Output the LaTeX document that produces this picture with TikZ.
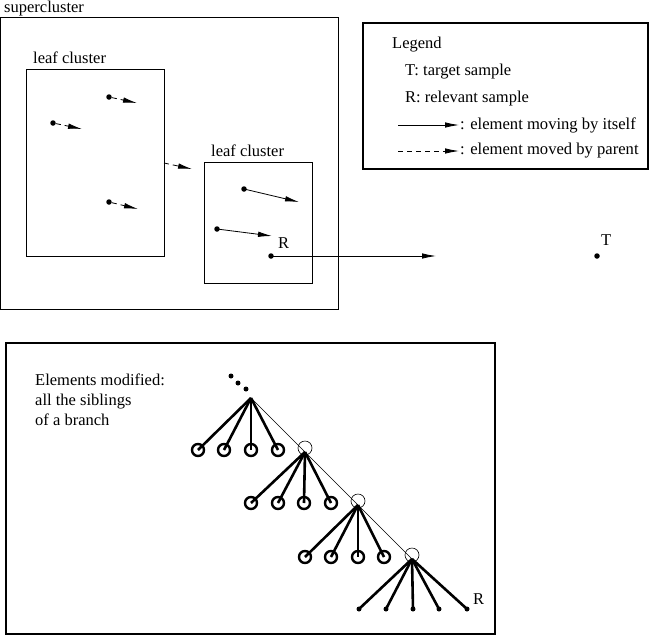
\documentclass[tikz,border=0pt]{standalone}
\usepackage{fontspec}
\setmainfont{Liberation Serif}
\usetikzlibrary{arrows.meta}
\begin{document}
\begin{tikzpicture}[x=1pt,y=-1pt,
  lbl/.style={font=\fontsize{16.5}{19}\selectfont, inner sep=0pt, anchor=west},
  lgline/.style={font=\fontsize{16.6}{19}\selectfont, inner sep=0pt, anchor=west},
  dotpt/.style={circle, fill=black, inner sep=0pt, minimum size=5.5pt},
  smalldot/.style={circle, fill=black, inner sep=0pt, minimum size=5pt},
  tip/.style={-{Latex[length=14pt,width=5.5pt]}},
  solidarr/.style={tip, line width=0.8pt},
  dasharr/.style={tip, line width=0.8pt, dash pattern=on 5pt off 4pt},
  thinbox/.style={draw, line width=0.8pt},
  thickbox/.style={draw, line width=1.4pt},
  leafc/.style={circle, draw, line width=2.4pt, inner sep=0pt, minimum size=12pt},
  hollow/.style={circle, draw, line width=0.6pt, inner sep=0pt, minimum size=14pt},
  thickedge/.style={line width=2.6pt},
  thinedge/.style={line width=0.6pt}
]
\useasboundingbox (0,0) rectangle (654,638);
% boxes
\node[lbl] (sclab) at (4,8.5) {supercluster};
\draw[thinbox] (0,17) rectangle (338,309);
\node[lbl] (lc1lab) at (33,58) {leaf cluster};
\draw[thinbox] (26,69) rectangle (164,256);
\coordinate (lc1e) at (164,163);
\node[lbl] (lc2lab) at (211,151) {leaf cluster};
\draw[thinbox] (204,162) rectangle (312,283);
\coordinate (lc2w) at (192,169);
\draw[dasharr] (lc1e) -- (lc2w);
% elements in leaf cluster 1
\node[dotpt] (e1) at (53,123) {};
\coordinate (e1t) at (82,129);
\draw[dasharr] (e1) -- (e1t);
\node[dotpt] (e2) at (109,97) {};
\coordinate (e2t) at (137,103);
\draw[dasharr] (e2) -- (e2t);
\node[dotpt] (e3) at (109,202) {};
\coordinate (e3t) at (138,209);
\draw[dasharr] (e3) -- (e3t);
% elements in leaf cluster 2
\node[dotpt] (f1) at (244,189) {};
\coordinate (f1t) at (299,202);
\draw[solidarr] (f1.center) -- (f1t);
\node[dotpt] (f2) at (217,229) {};
\coordinate (f2t) at (272,236);
\draw[solidarr] (f2.center) -- (f2t);
\node[dotpt] (R) at (271,256) {};
\node[lbl] (Rlab) at (278,243) {R};
\coordinate (Rt) at (436,256);
\draw[solidarr] (R.center) -- (Rt);
\node[dotpt] (T) at (597,256) {};
\node[lbl] (Tlab) at (601,240) {T};
% legend
\draw[thickbox] (363,23) rectangle (648,169);
\node[lbl] (lg) at (392,45) {Legend};
\node[lbl] (lgT) at (405,72) {T: target sample};
\node[lbl] (lgR) at (405,99) {R: relevant sample};
\coordinate (ls1) at (398,125);
\coordinate (ls2) at (459,125);
\draw[solidarr] (ls1) -- (ls2);
\node[lgline] (lgs) at (460,125) {: element moving by itself};
\coordinate (ld1) at (398,151);
\coordinate (ld2) at (459,151);
\draw[dasharr] (ld1) -- (ld2);
\node[lgline] (lgd) at (460,151) {: element moved by parent};
% bottom box
\draw[thickbox] (6,343) rectangle (495,634);
\node[lbl, align=left, anchor=north west, font=\fontsize{16.5}{20}\selectfont] (em) at (35,374) {Elements modified:\\all the siblings\\of a branch};
% tree
\node[smalldot] (d1) at (231,376) {};
\node[smalldot] (d2) at (238,383) {};
\node[smalldot] (d3) at (246,389) {};
\coordinate (A) at (251,398);
\node[hollow] (h1) at (305,448) {};
\coordinate (B) at (305,452);
\node[hollow] (h2) at (358,501) {};
\coordinate (C) at (358,505);
\node[hollow] (h3) at (412,555) {};
\coordinate (D) at (412,559);
\draw[thinedge] (A) -- (D);
\foreach \x [count=\i] in {198,224,251,278} {
  \node[leafc] (a\i) at (\x,450) {};
  \draw[thickedge] (A) -- (a\i.center);
}
\foreach \x [count=\i] in {251,278,304,331} {
  \node[leafc] (b\i) at (\x,503) {};
  \draw[thickedge] (B) -- (b\i.center);
}
\foreach \x [count=\i] in {305,331,358,384} {
  \node[leafc] (c\i) at (\x,557) {};
  \draw[thickedge] (C) -- (c\i.center);
}
\foreach \x [count=\i] in {359,386,413,439,467} {
  \node[smalldot] (l\i) at (\x,609) {};
  \draw[thickedge] (D) -- (l\i.center);
}
\node[lbl] (R2) at (473,599) {R};
\end{tikzpicture}
\end{document}
